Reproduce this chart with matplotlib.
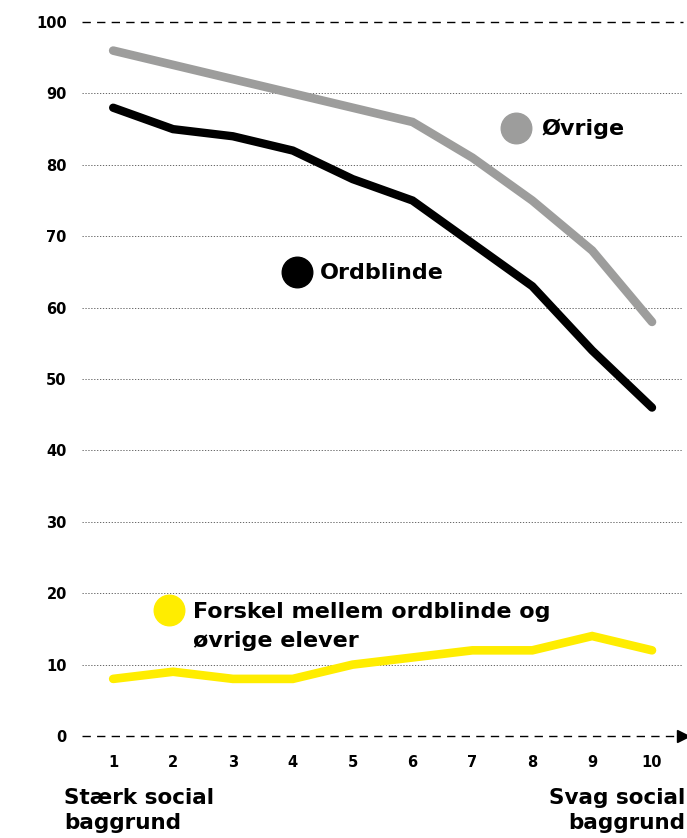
import matplotlib.pyplot as plt

plt.rcParams['font.family'] = ['DejaVu Sans']

deciles = [1, 2, 3, 4, 5, 6, 7, 8, 9, 10]
ovrige = [96, 94, 92, 90, 88, 86, 81, 75, 68, 58]
ordblinde = [88, 85, 84, 82, 78, 75, 69, 63, 54, 46]
forskel = [8, 9, 8, 8, 10, 11, 12, 12, 14, 12]
yticks = [0, 10, 20, 30, 40, 50, 60, 70, 80, 90, 100]

gray = '#9d9d9c'
yellow = '#ffed00'

fig = plt.figure(figsize=(6.87, 8.38), dpi=100)
ax = fig.add_axes([0.1194, 0.1217, 0.875, 0.852])
ax.set_xlim(0.48, 10.52)
ax.set_ylim(0, 100)

# gridlines
for y in yticks[1:-1]:
    ax.axhline(y, color='#666666', lw=0.7, ls=(0, (1.3, 1.7)), zorder=1)
ax.axhline(100, color='black', lw=1.0, ls=(0, (6, 4.5)), zorder=1, clip_on=False)
ax.axhline(0, color='black', lw=1.0, ls=(0, (6, 4.5)), zorder=1, clip_on=False)
ax.plot([10.52], [0], marker='>', color='black', ms=9, clip_on=False, zorder=3)

ax.plot(deciles, ovrige, color=gray, lw=6.2, solid_capstyle='round', solid_joinstyle='miter', zorder=2)
ax.plot(deciles, ordblinde, color='black', lw=6, solid_capstyle='round', solid_joinstyle='miter', zorder=2)
ax.plot(deciles, forskel, color=yellow, lw=6.2, solid_capstyle='round', solid_joinstyle='miter', zorder=2)

# labels with dots
ax.plot([7.72], [85.2], 'o', color=gray, ms=22, zorder=3)
ax.text(8.15, 85.0, 'Øvrige', fontsize=16, fontweight='bold', va='center', ha='left')
ax.plot([4.07], [65.0], 'o', color='black', ms=22, zorder=3)
ax.text(4.45, 64.8, 'Ordblinde', fontsize=16, fontweight='bold', va='center', ha='left')
ax.plot([1.93], [17.6], 'o', color=yellow, ms=22, zorder=3)
ax.text(2.33, 16.5, 'Forskel mellem ordblinde og', fontsize=16, fontweight='bold',
        va='baseline', ha='left')
ax.text(2.33, 12.45, 'øvrige elever', fontsize=16, fontweight='bold',
        va='baseline', ha='left')

ax.set_xticks(deciles)
ax.set_xticklabels([str(d) for d in deciles], fontsize=10.5, fontweight='bold')
ax.set_yticks(yticks)
ax.set_yticklabels([str(v) for v in yticks], fontsize=10.5, fontweight='bold')
ax.tick_params(length=0, pad=14)
ax.tick_params(axis='y', pad=11)
for s in ax.spines.values():
    s.set_visible(False)

fig.text(64 / 687, 1 - 804 / 838, 'Stærk social', fontsize=15.5, fontweight='bold',
         ha='left', va='baseline')
fig.text(64 / 687, 1 - 829 / 838, 'baggrund', fontsize=15.5, fontweight='bold',
         ha='left', va='baseline')
fig.text(685 / 687, 1 - 804 / 838, 'Svag social', fontsize=15.5, fontweight='bold',
         ha='right', va='baseline')
fig.text(685 / 687, 1 - 829 / 838, 'baggrund', fontsize=15.5, fontweight='bold',
         ha='right', va='baseline')

fig.savefig('out.png', dpi=100)
